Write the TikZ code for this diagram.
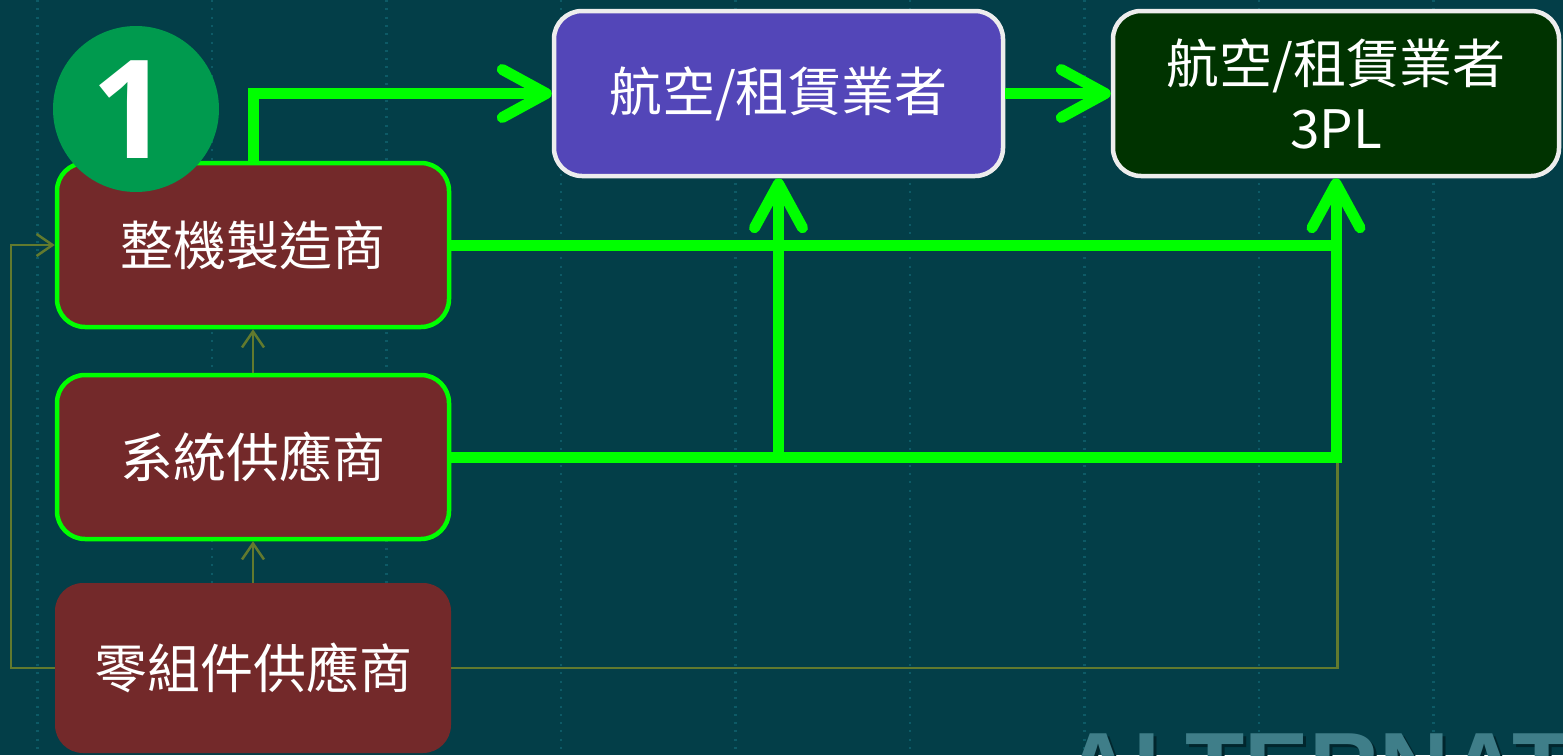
\documentclass[tikz,border=0pt]{standalone}
\usepackage{fontspec}
\usetikzlibrary{arrows.meta}
\newfontfamily\cjk{Noto Sans CJK TC}
\newfontfamily\numfont{Open Sans}
\newfontfamily\bigsans{Liberation Sans}
\definecolor{bg}{HTML}{033E48}
\definecolor{gridc}{HTML}{0D5A66}
\definecolor{brick}{HTML}{73292A}
\definecolor{neon}{HTML}{00FF00}
\definecolor{olive}{HTML}{627A2E}
\definecolor{purp}{HTML}{5346B8}
\definecolor{dgreen}{HTML}{003300}
\definecolor{badge}{HTML}{009A4E}
\definecolor{ghost}{HTML}{3F7E89}
\definecolor{ghostsh}{HTML}{01262D}
\tikzset{
  box/.style={rectangle, rounded corners=28pt, fill=brick, text=white,
    font=\cjk\fontsize{53}{60}\selectfont, align=center, inner sep=0pt},
  gbox/.style={box, draw=neon, line width=4.5pt, minimum width=392pt, minimum height=164pt},
  topbox/.style={box, draw=white!93!black, line width=4.5pt, minimum height=165pt},
  gline/.style={draw=neon, line width=11pt},
  garrow/.style={gline, -{Straight Barb[length=44pt,width=48pt,round]}},
  oline/.style={draw=olive, line width=2.5pt},
  oarrow/.style={oline, -{Straight Barb[length=16pt,width=22pt]}},
}
\begin{document}
\begin{tikzpicture}[x=1pt,y=-1pt]
\fill[bg] (0,0) rectangle (1563,755);
\useasboundingbox (0,0) rectangle (1563,755);
% dotted grid
\foreach \k in {0,...,8}{
  \draw[gridc, line width=2.2pt, dash pattern=on 2pt off 6.3pt] (37.5+174.5*\k,0) -- (37.5+174.5*\k,755);
}
% ghost title with shadow
\begin{scope}[shift={(3,3)}]
\node[anchor=base west, font=\bigsans\bfseries\fontsize{97}{100}\selectfont, text=ghostsh, inner sep=0pt] (ghosts) at (1063,800) {ALTERNAT};
\end{scope}
\node[anchor=base west, font=\bigsans\bfseries\fontsize{97}{100}\selectfont, text=ghost, inner sep=0pt] (ghostt) at (1063,800) {ALTERNAT};

% boxes
\node[gbox] (zj) at (253,245) {整機製造商};
\node[gbox] (xt) at (253,457) {系統供應商};
\node[box, minimum width=396pt, minimum height=170pt] (lj) at (253,668) {零組件供應商};
\node[topbox, fill=purp, minimum width=449pt] (air) at (778.5,93.5) {航空/租賃業者};
\node[topbox, fill=dgreen, minimum width=446pt] (tpl) at (1336,93.5) {航空/租賃業者\\[5pt]3PL};

% olive connectors
\coordinate (lt) at (11,668);
\coordinate (rt) at (1337.5,668);
\draw[oline] (lj.east) -- (rt) -- (rt |- zj.east);
\draw[oarrow] (lj.west) -- (lt) |- (zj.west);
\draw[oarrow] (lj.north) -- (xt.south);
\draw[oarrow] (xt.north) -- (zj.south);

% green connectors
\draw[garrow] (zj.north) |- (air.west);
\draw[garrow] (air.east) -- (tpl.west);
\draw[gline] (zj.east) -- (zj.east -| tpl.south);
\draw[garrow, line join=miter] (xt.east) -| (tpl.south);
\draw[garrow] (xt.east -| air.south) -- (air.south);

% badge
\node[circle, fill=badge, minimum size=166pt, inner sep=0pt] (bdg) at (136,109) {};
\node[font=\numfont\bfseries\fontsize{137}{140}\selectfont, text=white, inner sep=0pt] (one) at (131,110) {1};
\end{tikzpicture}
\end{document}
